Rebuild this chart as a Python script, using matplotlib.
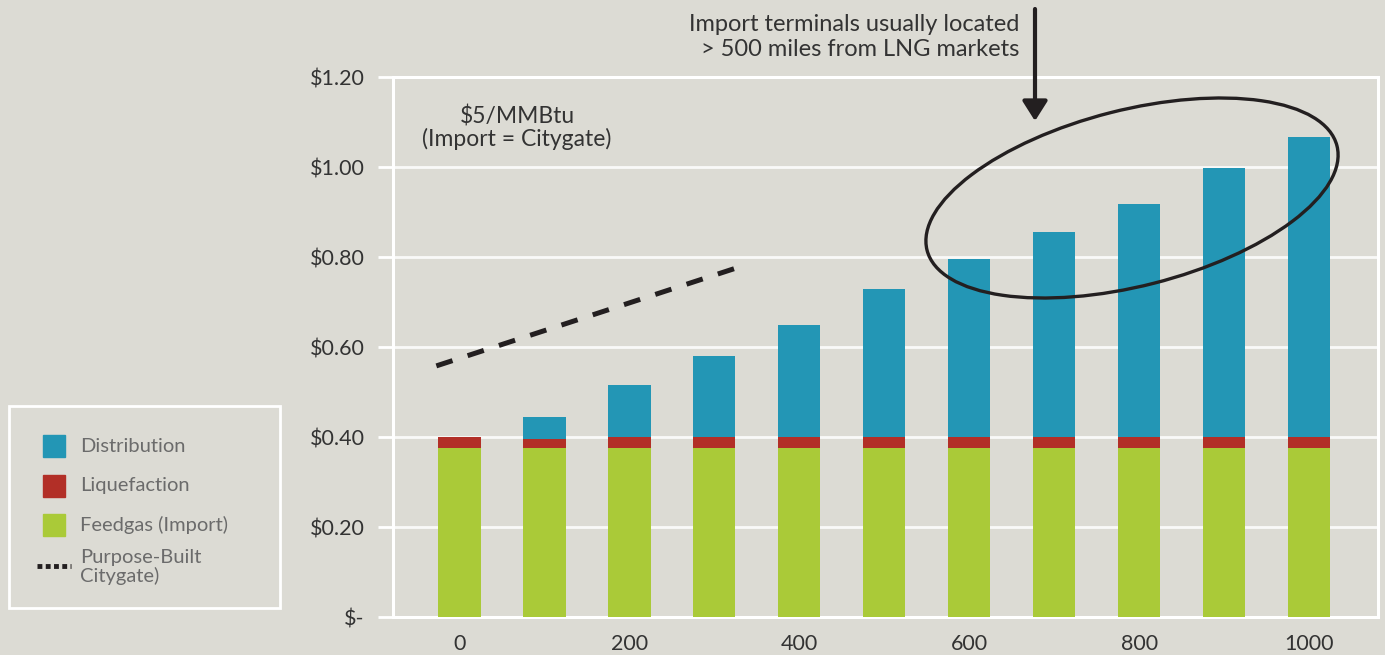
import matplotlib
matplotlib.use('Agg')
import matplotlib.pyplot as plt
from matplotlib.patches import Ellipse, Rectangle
from matplotlib.lines import Line2D

# Delivered cost of LNG by trucking distance (miles), $/MMBtu
distance = [0, 100, 200, 300, 400, 500, 600, 700, 800, 900, 1000]
feedgas = [0.375, 0.375, 0.375, 0.375, 0.375, 0.375, 0.375, 0.375, 0.375, 0.375, 0.375]
liquefaction = [0.025, 0.020, 0.025, 0.025, 0.025, 0.025, 0.025, 0.025, 0.025, 0.025, 0.025]
distribution = [0.0, 0.050, 0.115, 0.180, 0.248, 0.329, 0.396, 0.455, 0.517, 0.598, 0.667]

# purpose-built citygate cost line (endpoints)
citygate_x = [-27, 325]
citygate_y = [0.558, 0.775]

x_ticks = [0, 200, 400, 600, 800, 1000]
y_ticks = [0, 0.2, 0.4, 0.6, 0.8, 1.0, 1.2]
y_labels = ['$-', '$0.20', '$0.40', '$0.60', '$0.80', '$1.00', '$1.20']

BG = '#dcdbd4'
BLUE = '#2396b5'
RED = '#b22f27'
GREEN = '#aaca38'
DARK = '#231f20'
TXT = '#333333'
LEG_TXT = '#6b6b6b'

plt.rcParams['font.family'] = ['Lato', 'DejaVu Sans']

W, H = 1385, 655
fig = plt.figure(figsize=(W / 100, H / 100), dpi=100, facecolor=BG)
ax = fig.add_axes([393 / W, 1 - 617 / H, 985 / W, 540 / H], facecolor=BG)

bw = 50
ax.bar(distance, feedgas, width=bw, color=GREEN, zorder=3)
ax.bar(distance, liquefaction, width=bw, bottom=feedgas, color=RED, zorder=3)
base = [f + l for f, l in zip(feedgas, liquefaction)]
ax.bar(distance, distribution, width=bw, bottom=base, color=BLUE, zorder=3)

ax.plot(citygate_x, citygate_y, color=DARK, lw=3.6, dashes=(3.4, 3.18),
        solid_capstyle='butt', dash_capstyle='butt', zorder=4)

ax.set_xlim(-78, 1081)
ax.set_ylim(0, 1.2)
ax.set_xticks(x_ticks)
ax.set_yticks(y_ticks)
ax.set_yticklabels(y_labels)
ax.tick_params(axis='x', length=0, pad=12, labelsize=15.5, labelcolor=TXT)
ax.tick_params(axis='y', length=11, width=2, color='white', pad=9.5,
               labelsize=15.5, labelcolor=TXT)
ax.yaxis.grid(True, color='white', lw=2, alpha=0.85, zorder=1)
ax.set_axisbelow(True)
for s in ax.spines.values():
    s.set_color('white')
    s.set_linewidth(2.2)

# annotation text inside the plot
ax.text(0.126, 0.906, '$5/MMBtu\n(Import = Citygate)', transform=ax.transAxes,
        ha='center', va='center', fontsize=16.5, color=TXT, linespacing=1.0)

# ellipse around the long-distance bars (drawn in inches so the tilt is kept)
ell = Ellipse((1132 / 100, (H - 198) / 100), 4.23, 1.76, angle=14.3,
              transform=fig.dpi_scale_trans, fill=False, ec=DARK, lw=2.4, zorder=6)
fig.add_artist(ell)

fig.text(1019 / W, 1 - 37 / H, 'Import terminals usually located\n> 500 miles from LNG markets',
         ha='right', va='center', fontsize=17, color=TXT, linespacing=1.2)
ax.annotate('', xy=(1035 / W, 1 - 121 / H), xytext=(1035 / W, 1 - 9 / H),
            xycoords='figure fraction', textcoords='figure fraction',
            arrowprops=dict(arrowstyle='-|>,head_length=0.6,head_width=0.38',
                            mutation_scale=20, lw=3, color=DARK,
                            shrinkA=0, shrinkB=0))

# legend box, drawn by hand
fig.add_artist(Rectangle((9 / W, 1 - 608 / H), 271 / W, 202 / H,
                         transform=fig.transFigure, fill=False, ec='white', lw=2))
legend_items = [('Distribution', BLUE, 446), ('Liquefaction', RED, 486),
                ('Feedgas (Import)', GREEN, 525)]
for label, col, yc in legend_items:
    fig.add_artist(Rectangle((43 / W, 1 - (yc + 11) / H), 22 / W, 22 / H,
                             transform=fig.transFigure, color=col))
    fig.text(80 / W, 1 - yc / H, label, ha='left', va='center', fontsize=14.5,
             color=LEG_TXT)
fig.add_artist(Line2D([37 / W, 71 / W], [1 - 566 / H, 1 - 566 / H],
                      transform=fig.transFigure, color=DARK, lw=3.5,
                      dashes=(1.0, 0.7)))
fig.text(80 / W, 1 - 567 / H, 'Purpose-Built\nCitygate)', ha='left', va='center',
         fontsize=14.5, color=LEG_TXT, linespacing=1.0)

fig.savefig('out.png', dpi=100, facecolor=BG)
